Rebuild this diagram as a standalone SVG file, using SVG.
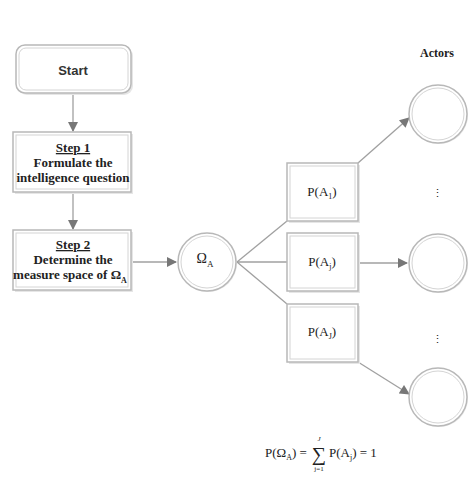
<svg xmlns="http://www.w3.org/2000/svg" width="474" height="477" viewBox="0 0 474 477">
<defs>
<style>
.box{fill:#fff;stroke:#b8b8b8;stroke-width:1.5}
.inner{fill:none;stroke:#d4d4d4;stroke-width:1}
.shadow{fill:#e6e6e6}
.t{font-family:"Liberation Serif","Times New Roman",serif;font-weight:bold;font-size:13px;fill:#222;text-anchor:middle}
.m{font-family:"Liberation Serif","Times New Roman",serif;font-size:13px;fill:#222;text-anchor:middle}
.conn{stroke:#a0a0a0;stroke-width:1.3;fill:none}
</style>
<marker id="ah" viewBox="0 0 10 10" refX="9" refY="5" markerWidth="11" markerHeight="10" markerUnits="userSpaceOnUse" orient="auto">
<path d="M0,0 L10,5 L0,10 z" fill="#777"/>
</marker>
</defs>
<rect width="474" height="477" fill="#fff"/>
<g id="connectors">
<line class="conn" x1="73" y1="94" x2="73" y2="131" marker-end="url(#ah)"/>
<line class="conn" x1="73" y1="193" x2="73" y2="229" marker-end="url(#ah)"/>
<line class="conn" x1="132" y1="262" x2="176" y2="262" marker-end="url(#ah)"/>
<line class="conn" x1="237" y1="262" x2="287" y2="221"/>
<line class="conn" x1="237" y1="262" x2="287" y2="262"/>
<line class="conn" x1="237" y1="262" x2="287" y2="304"/>
<line class="conn" x1="358" y1="163" x2="409" y2="118" marker-end="url(#ah)"/>
<line class="conn" x1="358" y1="263" x2="407" y2="263" marker-end="url(#ah)"/>
<line class="conn" x1="358" y1="362" x2="409" y2="394" marker-end="url(#ah)"/>
</g>
<g id="start">
<rect x="18" y="47" width="115" height="48" rx="9" class="shadow"/>
<rect x="16" y="45" width="115" height="48" rx="9" class="box"/>
<rect x="19" y="48" width="109" height="42" rx="7" class="inner"/>
<text x="73" y="75" style="font-family:'Liberation Sans',Arial,sans-serif;font-weight:bold;font-size:13px;fill:#333;text-anchor:middle">Start</text>
</g>
<g id="step1">
<rect x="15" y="134" width="118" height="60" class="shadow"/>
<rect x="13" y="132" width="118" height="60" class="box"/>
<rect x="16" y="135" width="112" height="54" class="inner"/>
<text x="73" y="152" class="t" text-decoration="underline">Step 1</text>
<text x="73" y="167" class="t">Formulate the</text>
<text x="73" y="182" class="t">intelligence question</text>
</g>
<g id="step2">
<rect x="15" y="232" width="118" height="60" class="shadow"/>
<rect x="13" y="230" width="118" height="60" class="box"/>
<rect x="16" y="233" width="112" height="54" class="inner"/>
<text x="73" y="249" class="t" text-decoration="underline">Step 2</text>
<text x="73" y="264" class="t">Determine the</text>
<text x="70" y="279" class="t">measure space of Ω<tspan font-size="8" dy="4">A</tspan></text>
</g>
<g id="omega">
<circle cx="208" cy="263" r="29" fill="#e6e6e6"/>
<circle cx="207" cy="262" r="29" class="box"/>
<circle cx="207" cy="262" r="26" class="inner"/>
<text x="205" y="263" class="m" style="font-size:14px">Ω<tspan font-size="9" dy="4">A</tspan></text>
</g>
<g id="pa1">
<rect x="289" y="165" width="71" height="58" class="shadow"/>
<rect x="287" y="163" width="71" height="58" class="box"/>
<rect x="290" y="166" width="65" height="52" class="inner"/>
<text x="322" y="196" class="m">P(A<tspan font-size="8" dy="3">1</tspan><tspan dy="-3">)</tspan></text>
</g>
<g id="paj">
<rect x="289" y="235" width="71" height="58" class="shadow"/>
<rect x="287" y="233" width="71" height="58" class="box"/>
<rect x="290" y="236" width="65" height="52" class="inner"/>
<text x="322" y="266" class="m">P(A<tspan font-size="8" dy="3">j</tspan><tspan dy="-3">)</tspan></text>
</g>
<g id="paJ">
<rect x="289" y="306" width="71" height="58" class="shadow"/>
<rect x="287" y="304" width="71" height="58" class="box"/>
<rect x="290" y="307" width="65" height="52" class="inner"/>
<text x="322" y="336" class="m">P(A<tspan font-size="8" dy="3">J</tspan><tspan dy="-3">)</tspan></text>
</g>
<g id="actors">
<text x="437" y="57" class="t" style="font-size:12px">Actors</text>
<circle cx="439" cy="115" r="29" fill="#e6e6e6"/>
<circle cx="438" cy="114" r="29" class="box"/>
<circle cx="438" cy="114" r="26" class="inner"/>
<text x="437" y="197" class="m" style="font-size:11px">⋮</text>
<circle cx="439" cy="264" r="29" fill="#e6e6e6"/>
<circle cx="438" cy="263" r="29" class="box"/>
<circle cx="438" cy="263" r="26" class="inner"/>
<text x="437" y="343" class="m" style="font-size:11px">⋮</text>
<circle cx="439" cy="398" r="29" fill="#e6e6e6"/>
<circle cx="438" cy="397" r="29" class="box"/>
<circle cx="438" cy="397" r="26" class="inner"/>
</g>
<g id="formula">
<text x="265" y="457" class="m" style="text-anchor:start">P(Ω<tspan font-size="8" dy="3">A</tspan><tspan dy="-3">) = </tspan></text>
<text x="319" y="461" class="m" style="font-size:20px">∑</text>
<text x="319" y="441" class="m" style="font-size:7px;font-style:italic">J</text>
<text x="319" y="471" class="m" style="font-size:7px">j=1</text>
<text x="329" y="457" class="m" style="text-anchor:start">P(A<tspan font-size="8" dy="3">j</tspan><tspan dy="-3">) = 1</tspan></text>
</g>
</svg>
